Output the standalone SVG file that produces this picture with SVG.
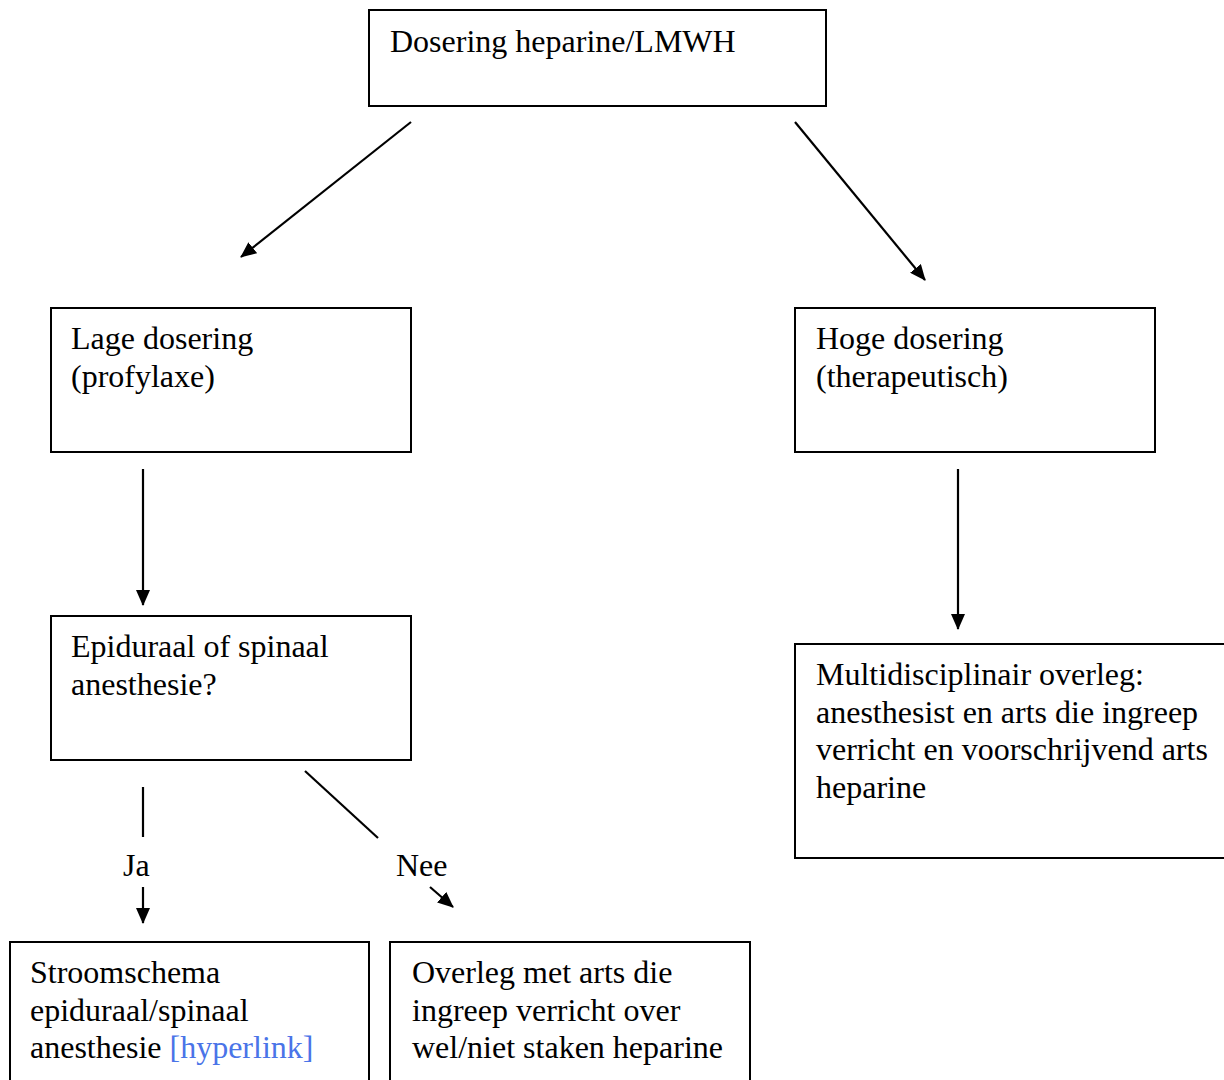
<svg xmlns="http://www.w3.org/2000/svg" width="1224" height="1080" viewBox="0 0 1224 1080">
  <style>
    .box { fill: #ffffff; stroke: #000000; stroke-width: 2; }
    .lbl { font-family: "Liberation Serif", "Times New Roman", serif; font-size: 32px; fill: #000000; }
    .link { fill: #4a74e8; }
    .edge { stroke: #000000; stroke-width: 2.2; fill: none; }
  </style>
  <defs>
    <marker id="arrow" viewBox="0 0 10 10" refX="9" refY="5" markerWidth="7.5" markerHeight="7.5" markerUnits="userSpaceOnUse" orient="auto">
      <path d="M0,0 L10,5 L0,10 z" fill="#000000"/>
    </marker>
    <marker id="head" viewBox="0 0 16 14" refX="15" refY="7" markerWidth="16" markerHeight="14" markerUnits="userSpaceOnUse" orient="auto">
      <path d="M0,0 L16,7 L0,14 z" fill="#000000"/>
    </marker>
  </defs>

  <rect width="1224" height="1080" fill="#ffffff"/>

  <g id="connectors">
    <line class="edge" x1="411" y1="122" x2="241" y2="257" marker-end="url(#head)"/>
    <line class="edge" x1="795" y1="122" x2="925" y2="280" marker-end="url(#head)"/>
    <line class="edge" x1="143" y1="469" x2="143" y2="605" marker-end="url(#head)"/>
    <line class="edge" x1="958" y1="469" x2="958" y2="629" marker-end="url(#head)"/>
    <line class="edge" x1="143" y1="787" x2="143" y2="837"/>
    <line class="edge" x1="143" y1="887" x2="143" y2="923" marker-end="url(#head)"/>
    <line class="edge" x1="305" y1="771" x2="378" y2="838"/>
    <line class="edge" x1="430" y1="887" x2="453" y2="907" marker-end="url(#head)"/>
    <text class="lbl" x="123" y="876">Ja</text>
    <text class="lbl" x="396" y="876">Nee</text>
  </g>

  <g id="dosering">
    <rect class="box" x="369" y="10" width="457" height="96"/>
    <text class="lbl" x="390" y="52">Dosering heparine/LMWH</text>
  </g>

  <g id="lage-dosering">
    <rect class="box" x="51" y="308" width="360" height="144"/>
    <text class="lbl" x="71" y="349">Lage dosering</text>
    <text class="lbl" x="71" y="386.5">(profylaxe)</text>
  </g>

  <g id="hoge-dosering">
    <rect class="box" x="795" y="308" width="360" height="144"/>
    <text class="lbl" x="816" y="349">Hoge dosering</text>
    <text class="lbl" x="816" y="386.5">(therapeutisch)</text>
  </g>

  <g id="epiduraal-vraag">
    <rect class="box" x="51" y="616" width="360" height="144"/>
    <text class="lbl" x="71" y="657">Epiduraal of spinaal</text>
    <text class="lbl" x="71" y="694.5">anesthesie?</text>
  </g>

  <g id="multidisciplinair">
    <rect class="box" x="795" y="644" width="440" height="214"/>
    <text class="lbl" x="816" y="685">Multidisciplinair overleg:</text>
    <text class="lbl" x="816" y="722.5">anesthesist en arts die ingreep</text>
    <text class="lbl" x="816" y="760">verricht en voorschrijvend arts</text>
    <text class="lbl" x="816" y="797.5">heparine</text>
  </g>

  <g id="stroomschema">
    <rect class="box" x="10" y="942" width="359" height="160"/>
    <text class="lbl" x="30" y="983">Stroomschema</text>
    <text class="lbl" x="30" y="1020.5">epiduraal/spinaal</text>
    <text class="lbl" x="30" y="1058">anesthesie <tspan class="link">[hyperlink]</tspan></text>
  </g>

  <g id="overleg-arts">
    <rect class="box" x="390" y="942" width="360" height="160"/>
    <text class="lbl" x="412" y="983">Overleg met arts die</text>
    <text class="lbl" x="412" y="1020.5">ingreep verricht over</text>
    <text class="lbl" x="412" y="1058">wel/niet staken heparine</text>
  </g>
</svg>
